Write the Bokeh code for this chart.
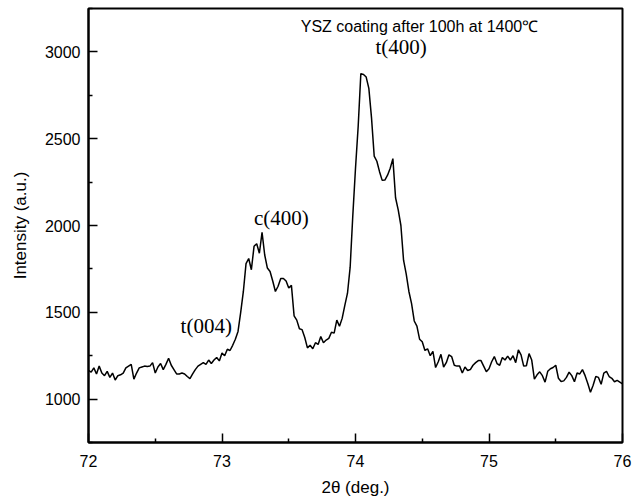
import numpy as np
from bokeh.plotting import figure
from bokeh.models import Label, Range1d, FixedTicker
from bokeh.embed import file_html
from bokeh.resources import INLINE

# XRD scan: 72.00 -> 76.00 deg, step 0.02
two_theta_start = 72.0
two_theta_step = 0.02
intensity = [
    1165, 1155, 1180, 1145, 1190, 1150, 1135, 1160, 1125, 1150,  # 72.00-72.18
    1110, 1135, 1140, 1150, 1180, 1190, 1200, 1115, 1150, 1180,  # 72.20-72.38
    1185, 1190, 1188, 1190, 1210, 1150, 1185, 1205, 1170, 1200,  # 72.40-72.58
    1235, 1195, 1170, 1145, 1145, 1150, 1145, 1130, 1118, 1145,  # 72.60-72.78
    1170, 1190, 1200, 1210, 1200, 1225, 1205, 1225, 1240, 1220,  # 72.80-72.98
    1265, 1250, 1287, 1280, 1310, 1345, 1390, 1500, 1620, 1780,  # 73.00-73.18
    1810, 1745, 1880, 1895, 1840, 1960, 1830, 1755, 1735, 1680,  # 73.20-73.38
    1620, 1650, 1695, 1695, 1680, 1640, 1655, 1480, 1455, 1405,  # 73.40-73.58
    1400, 1355, 1295, 1310, 1290, 1325, 1315, 1360, 1325, 1340,  # 73.60-73.78
    1350, 1385, 1380, 1455, 1420, 1465, 1540, 1610, 1760, 2060,  # 73.80-73.98
    2330, 2570, 2875, 2870, 2855, 2790, 2620, 2400, 2370, 2310,  # 74.00-74.18
    2260, 2262, 2290, 2330, 2385, 2160, 2090, 2000, 1800, 1720,  # 74.20-74.38
    1620, 1550, 1450, 1420, 1345, 1330, 1280, 1290, 1250, 1275,  # 74.40-74.58
    1182, 1215, 1258, 1185, 1210, 1255, 1245, 1195, 1190, 1190,  # 74.60-74.78
    1150, 1185, 1165, 1170, 1195, 1210, 1222, 1222, 1190, 1158,  # 74.80-74.98
    1175, 1215, 1245, 1205, 1195, 1240, 1225, 1248, 1225, 1250,  # 75.00-75.18
    1210, 1283, 1255, 1190, 1192, 1262, 1225, 1115, 1140, 1157,  # 75.20-75.38
    1135, 1098, 1160, 1175, 1182, 1195, 1120, 1102, 1105, 1125,  # 75.40-75.58
    1155, 1135, 1100, 1150, 1145, 1170, 1135, 1090, 1040, 1080,  # 75.60-75.78
    1130, 1125, 1085, 1150, 1160, 1130, 1120, 1100, 1108, 1098,  # 75.80-75.98
    1088,
]
two_theta = two_theta_start + two_theta_step * np.arange(len(intensity))

x_ticks = [72, 73, 74, 75, 76]
y_ticks = [1000, 1500, 2000, 2500, 3000]

title_text = "YSZ coating after 100h at 1400\u2103"
peak_labels = ["t(004)", "c(400)", "t(400)"]
peak_label_x = [72.69, 73.24, 74.15]
peak_label_y = [1420, 2046, 3029]

p = figure(width=633, height=502, output_backend="svg", toolbar_location=None,
           x_range=Range1d(72, 76), y_range=Range1d(750, 3250),
           min_border_left=88, min_border_right=11, min_border_top=8,
           min_border_bottom=60)
p.background_fill_color = "white"
p.border_fill_color = "white"
p.outline_line_color = "black"
p.outline_line_width = 2
p.grid.visible = False

p.line(two_theta, intensity, line_color="black", line_width=1.5)

for ax, ticks in ((p.xaxis, x_ticks), (p.yaxis, y_ticks)):
    step = ticks[1] - ticks[0]
    ax.ticker = FixedTicker(ticks=ticks,
                            minor_ticks=[t - step / 2 for t in ticks] + [ticks[-1] + step / 2])
    ax.axis_line_color = "black"
    ax.axis_line_width = 2
    ax.major_tick_in = 9
    ax.major_tick_out = 0
    ax.minor_tick_in = 4
    ax.minor_tick_out = 0
    ax.major_tick_line_width = 1.5
    ax.minor_tick_line_width = 1.5
    ax.major_label_text_font = "Liberation Sans"
    ax.major_label_text_font_size = "16px"
    ax.major_label_text_color = "black"
    ax.axis_label_text_font = "Liberation Sans"
    ax.axis_label_text_font_size = "17px"
    ax.axis_label_text_font_style = "normal"
    ax.axis_label_text_color = "black"

p.xaxis.axis_label = "2\u03b8 (deg.)"
p.yaxis.axis_label = "Intensity (a.u.)"
p.xaxis.major_label_standoff = 12
p.yaxis.major_label_standoff = 8
p.xaxis.axis_label_standoff = 8
p.yaxis.axis_label_standoff = 12

p.add_layout(Label(x=73.59, y=3144, text=title_text, text_baseline="middle",
                   text_font="Liberation Sans", text_font_size="16px",
                   text_color="black"))
for t, lx, ly in zip(peak_labels, peak_label_x, peak_label_y):
    p.add_layout(Label(x=lx, y=ly, text=t, text_baseline="middle",
                       text_font="Liberation Serif", text_font_size="21px",
                       text_color="black"))

open("out.html", "w").write(file_html(p, INLINE))
